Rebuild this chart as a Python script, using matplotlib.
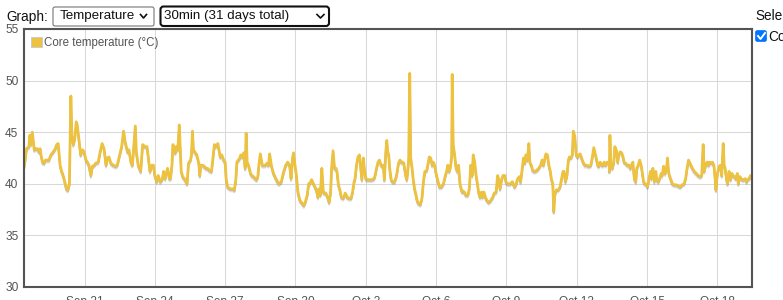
import numpy as np
import matplotlib.pyplot as plt
import matplotlib.transforms as mtransforms
from matplotlib.patches import FancyBboxPatch, Patch
from matplotlib.lines import Line2D

plt.rcParams['font.family'] = ['Liberation Sans', 'DejaVu Sans']

# readings: (hours since start, core temperature in °C)
start = np.datetime64('2021-09-18T10:00')
end_hours = 745.5

readings_1 = [(0, 41.6), (1.5, 42.5), (2.5, 43.4), (5, 43.6), (6, 44.7), (7, 43.8), (8.5, 45.0),
              (10.5, 43.3), (12, 43.4), (13.5, 43.4), (15.5, 43.1), (16.5, 43.4), (17, 43.0),
              (19, 42.1), (20.5, 42.0), (22, 42.3), (25.5, 42.3), (27.5, 42.8), (30, 43.1),
              (32, 43.4), (33.5, 43.8), (35, 43.9), (36, 42.8), (37, 41.8), (38.5, 41.2),
              (39.5, 41.0), (41, 40.5), (43.5, 39.5), (45, 39.4), (46.5, 40.0), (48, 48.5),
              (49, 44.7), (50.5, 43.8), (52, 44.4), (53.5, 46.0), (54.5, 45.7), (56.5, 44.1),
              (58, 42.8), (60, 43.3), (61.5, 43.1), (63.5, 42.3), (65, 42.1), (66.5, 41.8),
              (68.5, 40.8), (70, 41.7), (72, 41.8), (73.5, 42.0), (76, 42.1), (78, 43.1),
              (80, 43.9), (82, 43.4), (84, 41.8), (85.5, 42.5), (87, 42.6), (89, 42.0),
              (91.5, 41.8), (94, 41.7), (95.5, 41.8), (98.5, 43.0), (100, 43.6), (102, 45.1),
              (103.5, 44.1), (106, 43.1), (107.5, 43.3), (109.5, 42.1), (111, 41.8), (112, 43.1),
              (114, 45.6), (115, 43.1), (117, 41.8), (119.5, 41.2), (121.5, 43.8), (124, 43.6),
              (126, 43.6), (127, 42.8), (129, 41.2), (131, 41.8), (132.5, 41.8), (134, 40.8),
              (136, 40.2), (137.5, 40.8), (139.5, 40.2), (141.5, 40.4), (143, 41.2),
              (144.5, 40.5), (147, 41.5), (149, 40.5)]

readings_2 = [(150, 40.5), (151.5, 41.8), (152.5, 43.8), (154, 43.4), (155, 43.0), (156, 43.6),
              (157.5, 43.3), (159, 45.7), (160, 43.4), (161, 41.2), (162.5, 40.7), (165, 40.4),
              (167, 40.0), (168.5, 42.0), (170.5, 42.3), (171.5, 42.8), (172.5, 45.1),
              (173.5, 43.3), (175.5, 43.0), (177, 42.8), (179, 42.0), (180, 40.8), (181, 41.8),
              (183, 41.8), (184.5, 41.7), (186.5, 41.5), (188, 41.5), (190, 41.3), (192, 41.2),
              (193.5, 42.5), (195, 43.8), (196, 43.6), (198.5, 43.9), (199.5, 43.4), (201, 42.6),
              (202.5, 42.8), (204.5, 42.3), (206, 42.1), (207, 40.5), (208.5, 39.7),
              (211.5, 39.5), (214, 39.5), (215.5, 39.4), (217, 40.5), (218, 42.1), (219.5, 42.3),
              (221, 42.5), (222, 42.8), (223.5, 42.6), (225, 43.0), (226.5, 41.5), (227.5, 44.9),
              (228.5, 42.1), (230, 41.8), (232, 41.0), (233.5, 40.8), (235, 40.7), (237, 40.5),
              (238, 40.4), (239.5, 40.7), (240.5, 41.8), (242, 42.9), (244, 41.8), (245.5, 41.8),
              (247, 41.8), (249, 42.0), (250.5, 41.8), (251.5, 42.9), (253.5, 41.7), (255.5, 41.0),
              (258.5, 40.4), (261, 40.0), (263.5, 40.2), (266, 41.2), (268, 41.8), (270, 42.1),
              (272, 41.8), (273.5, 40.5), (275, 42.5), (276, 43.0), (277.5, 41.8), (279, 40.8),
              (280.5, 39.2), (282.5, 38.4), (285, 38.1), (286.5, 37.9), (288, 38.2), (290, 38.9),
              (291.5, 40.0), (292.5, 40.0), (294.5, 40.4), (297, 39.9), (299, 39.5)]

readings_3 = [(299.5, 39.4), (301, 38.7), (302, 39.5), (303.5, 38.9), (305, 41.5), (306.5, 39.2),
              (307.5, 39.1), (309, 39.1), (311, 38.7), (312.5, 38.2), (314, 39.2), (315, 41.5),
              (316.5, 43.2), (318, 41.5), (319.5, 41.5), (320.5, 41.2), (322, 39.9), (323.5, 39.4),
              (325, 38.7), (327, 38.6), (329, 39.1), (331, 38.7), (333, 38.6), (335, 38.6),
              (336.5, 39.2), (338, 40.2), (339, 40.5), (340.5, 41.8), (342, 42.6), (343.5, 42.8),
              (344.5, 41.8), (346, 40.4), (347.5, 42.5), (348.5, 41.5), (350, 40.5), (352, 40.4),
              (354, 40.4), (356, 40.4), (358.5, 40.5), (359.5, 40.8), (361, 41.5), (362.5, 42.1),
              (364, 42.3), (365, 42.0), (366.5, 41.7), (368, 41.8), (369, 40.4), (370.5, 43.1),
              (371.5, 44.2), (372.5, 43.1), (373.5, 42.8), (374.5, 41.5), (376, 40.4),
              (377.5, 40.2), (379.5, 40.2), (381.5, 40.8), (383.5, 42.0), (385, 42.3),
              (386.5, 42.1), (387.5, 42.1), (389, 42.0), (390.5, 41.0), (392, 40.4), (393, 41.2),
              (394, 42.5), (395, 50.7), (396, 42.5), (397.5, 41.5), (398.5, 40.5), (400, 39.5),
              (401.5, 38.9), (402.5, 38.4), (404, 38.1), (406, 38.0), (407.5, 38.6), (409, 40.2),
              (410.5, 41.2), (412.5, 41.3), (413.5, 41.8), (415, 42.6), (416.5, 42.5), (418, 41.8),
              (419, 42.1), (420.5, 41.8), (422, 41.0), (423.5, 40.4), (425.5, 39.7), (427.5, 39.7),
              (429.5, 40.0), (431.5, 40.8), (433, 41.3), (434, 41.8), (435.5, 41.2), (437, 41.8),
              (438, 42.8), (438.5, 50.6), (439.5, 43.8), (441, 42.8), (442.5, 41.5), (444, 41.2),
              (445, 41.8), (446.5, 40.0), (448, 39.4), (449, 39.2)]

readings_4 = [(449.5, 39.3), (451, 39.2), (452.5, 38.9), (454.5, 38.9), (456, 39.5), (457.5, 41.8),
              (459, 40.8), (460, 42.8), (461.5, 42.1), (463, 40.8), (464.5, 39.9), (465.5, 39.2),
              (467, 38.7), (468.5, 39.2), (469.5, 38.7), (471, 39.2), (472.5, 38.7), (474, 38.4),
              (476, 38.2), (478, 38.4), (480, 38.7), (481.5, 39.1), (483.5, 39.2), (485, 40.8),
              (486, 40.5), (487.5, 39.5), (489, 40.4), (490.5, 40.8), (492.5, 40.8), (493.5, 40.2),
              (495.5, 40.0), (498, 40.0), (500, 40.2), (501, 40.0), (502.5, 39.7), (504, 40.0),
              (505.5, 40.5), (507.5, 40.7), (508.5, 40.2), (510, 41.3), (511.5, 42.5), (513, 42.0),
              (514, 42.8), (515.5, 42.3), (517, 43.9), (518, 42.1), (519.5, 41.8), (521, 41.3),
              (523, 41.2), (525, 41.3), (527, 41.5), (529, 41.8), (530.5, 42.3), (532, 41.8),
              (533.5, 42.5), (534.5, 42.9), (536, 42.8), (537.5, 41.8), (539, 41.2), (540, 40.5),
              (541.5, 40.0), (542.5, 37.3), (543.5, 38.9), (545, 39.4), (547, 39.4), (549, 39.7),
              (550.5, 40.5), (552, 41.2), (553, 41.2), (554.5, 40.2), (556, 40.8), (557.5, 42.3),
              (558.5, 42.6), (560, 42.5), (561.5, 42.8), (562.5, 45.1), (564, 44.6), (565.5, 42.8),
              (567, 42.6), (568, 42.8), (569.5, 42.9), (571, 42.5), (572.5, 42.1), (574.5, 41.8),
              (576.5, 41.8), (578.5, 41.7), (580.5, 41.8), (582, 42.6), (583.5, 43.5),
              (584.5, 43.1), (586, 42.5), (587.5, 41.8), (588.5, 41.7), (590, 42.1), (591.5, 41.8),
              (593, 41.8), (594, 42.1), (595.5, 41.8), (597, 42.1), (599, 42.0)]

readings_5 = [(599.5, 41.2), (600, 44.7), (601, 41.8), (602.5, 41.5), (604, 42.1), (605, 43.6),
              (606.5, 43.3), (608, 42.1), (609, 42.8), (610.5, 43.1), (612, 43.0), (613.5, 42.6),
              (614.5, 42.1), (616, 42.0), (618, 41.8), (619.5, 41.8), (621, 41.5), (622, 41.8),
              (623.5, 42.1), (625, 40.5), (626.5, 40.2), (627.5, 41.5), (629, 41.8), (630.5, 42.3),
              (632, 41.8), (633, 41.2), (634.5, 40.2), (636, 40.0), (637.5, 39.9), (638.5, 39.7),
              (640, 40.5), (641.5, 41.2), (642.5, 40.5), (644, 41.5), (645.5, 40.2), (647, 41.2),
              (648, 40.4), (649.5, 40.2), (651, 40.5), (652.5, 41.0), (653.5, 40.8), (655, 41.7),
              (656.5, 41.0), (658, 41.5), (659, 42.5), (660, 41.2), (661, 40.8), (662.5, 40.4),
              (664, 40.0), (666, 39.9), (668, 39.9), (670, 39.8), (672, 39.7), (674, 39.9),
              (676, 40.0), (677.5, 40.5), (679, 41.5), (680.5, 42.3), (681.5, 42.1), (683, 41.8),
              (684.5, 41.5), (686.5, 41.2), (688.5, 41.0), (690.5, 40.8), (692.5, 40.7),
              (694, 40.8), (695.5, 43.8), (696.5, 41.2), (698, 41.8), (699.5, 42.1), (701, 41.8),
              (702, 42.1), (703.5, 42.0), (705, 42.1), (706.5, 41.8), (707.5, 40.8), (708.5, 39.4),
              (709.5, 40.5), (710.5, 41.2), (712, 41.7), (713, 41.8), (714.5, 40.8), (716, 43.9),
              (717, 41.8), (718, 41.5), (719.5, 40.4), (720.5, 40.0), (722, 41.2), (723.5, 40.4),
              (725, 41.0), (726, 40.8), (727.5, 40.7), (729, 40.5), (730.5, 41.0), (731.5, 40.0),
              (733, 40.7), (734.5, 40.5), (735.5, 40.4), (737, 40.4), (738.5, 40.5), (740, 40.2),
              (741, 40.4), (742.5, 40.5), (744, 40.8), (745.5, 40.5)]

y_ticks = [30, 35, 40, 45, 50, 55]
x_tick_dates = ['2021-09-21', '2021-09-24', '2021-09-27', '2021-09-30', '2021-10-03',
                '2021-10-06', '2021-10-09', '2021-10-12', '2021-10-15', '2021-10-18']
x_tick_labels = ['Sep 21', 'Sep 24', 'Sep 27', 'Sep 30', 'Oct 3',
                 'Oct 6', 'Oct 9', 'Oct 12', 'Oct 15', 'Oct 18']
series_label = 'Core temperature (°C)'
line_color = '#edc240'

readings = readings_1 + readings_2 + readings_3 + readings_4 + readings_5
hours = np.array([r[0] for r in readings])
temps = np.array([r[1] for r in readings])
times = start + (hours * 60).astype(int).astype('timedelta64[m]')

W, H = 783, 300
fig = plt.figure(figsize=(W / 100, H / 100), dpi=100)
# pixel coordinates measured from top-left, for the page widgets
px = mtransforms.Affine2D().scale(1 / W, -1 / H).translate(0, 1) + fig.transFigure

ax = fig.add_axes([24 / W, 1 - 287 / H, (752 - 24) / W, (287 - 29) / H])

# flot-style shadow under the line
for off, a in [(2.5, 0.12), (1.0, 0.22)]:
    tr = mtransforms.offset_copy(ax.transData, fig=fig, x=0, y=-off, units='dots')
    ax.plot(times, temps, color='black', alpha=a, lw=1.4, transform=tr,
            solid_joinstyle='round')
ax.plot(times, temps, color=line_color, lw=2.0, solid_joinstyle='round')

ax.set_xlim(start, start + np.timedelta64(int(end_hours * 60), 'm'))
ax.set_ylim(30, 55)
ax.set_yticks(y_ticks)
ax.set_xticks(np.array(x_tick_dates, dtype='datetime64[m]'))
ax.set_xticklabels(x_tick_labels)
ax.grid(True, color='#d9d9d9', lw=0.75)
ax.set_axisbelow(True)
ax.tick_params(length=0, labelsize=8.6, labelcolor='#545454')
ax.tick_params(axis='x', pad=6.3)
ax.tick_params(axis='y', pad=4)
for s in ax.spines.values():
    s.set_color('#545454')
    s.set_linewidth(1.5)

ax.legend(handles=[Patch(facecolor=line_color, edgecolor='#cccccc', lw=0.7, label=series_label)],
          loc='upper left', bbox_to_anchor=(30.5 / W, 1 - 36.5 / H), bbox_transform=fig.transFigure,
          frameon=False, fontsize=8.3, labelcolor='#545454', borderpad=0, borderaxespad=0,
          handlelength=1.0, handleheight=1.0, handletextpad=0.2)

# page widgets above the chart
fig.text(6, 16.5, 'Graph:', transform=px, fontsize=9.8, color='#111', va='center')
fig.add_artist(FancyBboxPatch((53, 7), 101, 19, boxstyle='round,pad=0,rounding_size=2',
                              transform=px, fc='white', ec='#767676', lw=0.8))
fig.text(59.5, 16.5, 'Temperature', transform=px, fontsize=9.6, color='#111', va='center')
fig.add_artist(Line2D([140.5, 143.5, 146.5], [14.5, 18, 14.5], transform=px, color='#111', lw=1.2))

fig.add_artist(FancyBboxPatch((160.5, 6.5), 168.5, 19.5, boxstyle='round,pad=0,rounding_size=3',
                              transform=px, fc='white', ec='#111', lw=1.5))
fig.text(164.5, 16.5, '30min (31 days total)', transform=px, fontsize=9.6, color='#111', va='center')
fig.add_artist(Line2D([317, 320.5, 324], [14.5, 18, 14.5], transform=px, color='#111', lw=1.2))

fig.text(755, 16.5, 'Sele', transform=px, fontsize=9.8, color='#111', va='center')
fig.add_artist(FancyBboxPatch((755.5, 30.5), 11, 11, boxstyle='round,pad=0,rounding_size=2',
                              transform=px, fc='#0075ff', ec='#0075ff', lw=0.5))
fig.add_artist(Line2D([758, 760.5, 765], [36, 39, 33], transform=px, color='white', lw=1.4))
fig.text(768, 37, 'Co', transform=px, fontsize=9.8, color='#111', va='center')

fig.savefig('out.png', dpi=100)
